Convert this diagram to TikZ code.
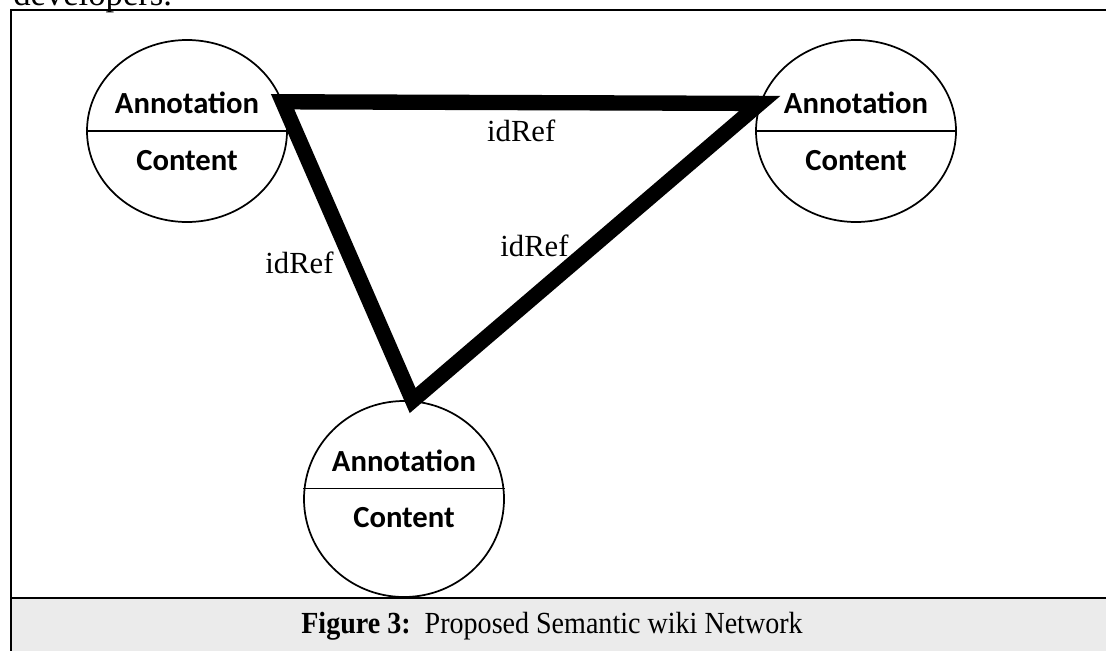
\documentclass[tikz,border=0pt]{standalone}
\usepackage{fontspec}
\setmainfont{Liberation Serif}
\newfontfamily\calib{Carlito}
\usetikzlibrary{shapes.geometric}

\tikzset{
wikinode/.style={ellipse,draw,line width=1.3pt,minimum width=150pt,inner sep=0pt},
parttext/.style={font=\calib\bfseries\fontsize{23}{26}\selectfont,inner sep=0pt},
idref/.style={font=\fontsize{23}{26}\selectfont,inner sep=0pt},
link/.style={line width=11.5pt,line join=miter}
}

\begin{document}
\begin{tikzpicture}[x=0.75pt,y=-0.75pt]
\useasboundingbox (0,0) rectangle (1106,650);

\fill[gray!16] (11,597.7) rectangle (1110,655);
\draw[line width=1.5pt] (1110,9.7) -- (11,9.7) -- (11,655);
\draw[line width=1.5pt] (11,597.7) -- (1110,597.7);
\node[anchor=base west,font=\fontsize{26}{30}\selectfont,inner sep=0pt] (prevline) at (13,5) {developers.};

\foreach \n/\x/\y/\h/\d in {a/187/131/182/0,b/856/131/182/0,c/404/499/196/8}
{
\node[wikinode,minimum height=\h*0.75pt] (\n) at (\x,\y) {};
\draw[line width=1pt] ([yshift=\d pt]\n.west) -- ([yshift=\d pt]\n.east);
\node[parttext,yshift=\d pt+21pt] (\n-ann) at (\n) {Annotation};
\node[parttext,yshift=\d pt-22pt] (\n-con) at (\n) {Content};
}

\draw[link] (a.17) -- node[idref,pos=0.5,yshift=-21pt] (ref1) {idRef}
  (b.164) -- node[idref,pos=0.48,xshift=-44pt] (ref2) {idRef}
  (c.85) -- node[idref,pos=0.46,xshift=-40pt] (ref3) {idRef} cycle;

\node[font=\fontsize{23}{26}\selectfont,xscale=0.915,inner sep=0pt] (caption) at (552,626) {\textbf{Figure 3:}\ \ Proposed Semantic wiki Network};
\end{tikzpicture}
\end{document}
